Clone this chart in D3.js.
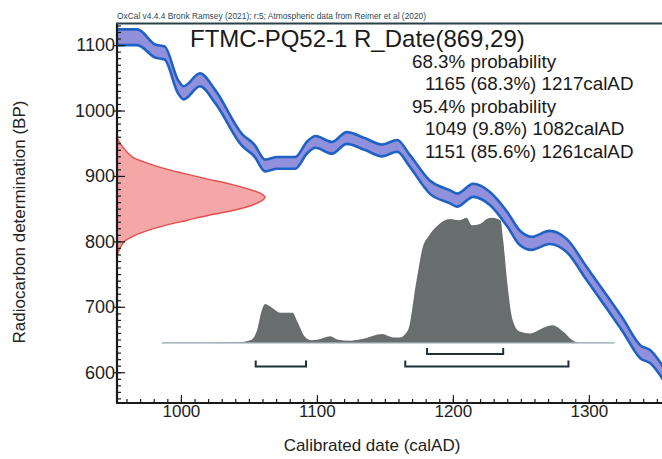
<!DOCTYPE html>
<html><head><meta charset="utf-8">
<script src="https://cdn.jsdelivr.net/npm/d3@7"></script>
<style>body{margin:0;background:#fff}svg{display:block}text{font-family:"Liberation Sans",Arial,sans-serif}</style>
</head><body><svg id="c" width="662" height="459"></svg>
<script>
// Calibration curve (IntCal20 segment)
const curveYear = [953, 968, 981, 988, 998, 1002, 1014, 1025, 1045, 1054, 1062, 1071, 1084, 1093, 1099, 1111, 1122, 1135, 1148, 1159, 1168, 1183, 1198, 1203, 1215, 1227, 1240, 1249, 1258, 1271, 1284, 1298, 1313, 1325, 1338, 1345, 1356];
const curveBP   = [1112, 1112, 1091, 1088, 1036, 1027, 1047, 1022, 955, 939, 916, 920, 920, 944, 952, 943, 958, 949, 939, 946, 924, 883, 868, 863, 878, 866, 834, 806, 797, 806, 793, 752, 708, 672, 631, 624, 594];
const curveSigma = [12, 12, 10, 10, 10, 10, 10, 10, 9, 9, 9, 9, 9, 9, 9, 9, 9, 9, 9, 9, 9, 10, 10, 10, 10, 10, 11, 11, 10, 10, 10, 10, 10, 10, 10, 10, 10];

// Radiocarbon date R_Date(869,29) distribution (relative)
const dateBP = [960, 952, 944, 936, 928, 920, 912, 904, 896, 888, 880, 872, 868, 864, 856, 848, 840, 832, 824, 816, 808, 800, 792, 784, 776];
const dateDensity = [0, 0.015, 0.04, 0.07, 0.11, 0.2, 0.31, 0.45, 0.6, 0.76, 0.89, 0.98, 1.0, 0.99, 0.92, 0.8, 0.62, 0.47, 0.32, 0.2, 0.11, 0.05, 0.025, 0.01, 0];

// Calibrated (posterior) distribution (relative)
const postYear = [986, 1043, 1051, 1056, 1059, 1062, 1067, 1073, 1082, 1086, 1091, 1096, 1101, 1110, 1115, 1124, 1134, 1148, 1156, 1161, 1167, 1173, 1178, 1182, 1188, 1198, 1205, 1210, 1214, 1220, 1225, 1229, 1235, 1237, 1240, 1244, 1249, 1257, 1264, 1273, 1281, 1288, 1293, 1319];
const postProb = [0, 0.005, 0.02, 0.10, 0.24, 0.31, 0.28, 0.24, 0.24, 0.16, 0.05, 0.02, 0.027, 0.053, 0.027, 0.016, 0.032, 0.07, 0.043, 0.043, 0.10, 0.48, 0.77, 0.85, 0.93, 0.99, 0.98, 1.0, 0.94, 0.95, 0.99, 1.0, 0.98, 0.82, 0.48, 0.18, 0.09, 0.075, 0.107, 0.14, 0.09, 0.02, 0, 0];

// Range brackets (row 0 = 68.3%, row 1 = 95.4%)
const bracketFrom = [1181, 1055, 1165];
const bracketTo   = [1237, 1092, 1285];
const bracketRow  = [0, 1, 1];

// Tick labels
const xTicks = [1000, 1100, 1200, 1300];
const yTicks = [600, 700, 800, 900, 1000, 1100];

// Texts
const headerText = "OxCal v4.4.4 Bronk Ramsey (2021); r:5; Atmospheric data from Reimer et al (2020)";
const titleText = "FTMC-PQ52-1 R_Date(869,29)";
const rangeLines = ["68.3% probability", "1165 (68.3%) 1217calAD", "95.4% probability", "1049 (9.8%) 1082calAD", "1151 (85.6%) 1261calAD"];
const rangeIndent = [0, 1, 0, 1, 1];

const svg = d3.select("#c");
const L = 117, R = 665, T = 23.5, B = 403;
const x = d3.scaleLinear().domain([953, 1356]).range([L, R]);
const y = d3.scaleLinear().domain([553, 1133]).range([B, T]);

svg.append("defs").append("clipPath").attr("id", "clip")
  .append("rect").attr("x", L).attr("y", T).attr("width", R - L).attr("height", B - T);
const g = svg.append("g").attr("clip-path", "url(#clip)");

// Red date distribution
const dW = d3.scaleLinear().domain([0, 1]).range([0, 148]);
const dateData = dateBP.map((b, i) => ({ b, d: dateDensity[i] }));
g.append("path").datum(dateData)
  .attr("d", d3.area().curve(d3.curveCatmullRom).y(d => y(d.b)).x0(L).x1(d => L + dW(d.d)))
  .attr("fill", "#f5a6a6");
g.append("path").datum(dateData)
  .attr("d", d3.line().curve(d3.curveCatmullRom).y(d => y(d.b)).x(d => L + dW(d.d)))
  .attr("fill", "none").attr("stroke", "#e2504c").attr("stroke-width", 1.4);

// Calibration band
const cData = curveYear.map((yr, i) => ({ yr, b: curveBP[i], s: curveSigma[i] }));
const cc = d3.curveMonotoneX;
g.append("path").datum(cData)
  .attr("d", d3.area().curve(cc).x(d => x(d.yr)).y0(d => y(d.b - d.s)).y1(d => y(d.b + d.s)))
  .attr("fill", "#9090dc");
[1, -1].forEach(sg => {
  g.append("path").datum(cData)
    .attr("d", d3.line().curve(cc).x(d => x(d.yr)).y(d => y(d.b + sg * d.s)))
    .attr("fill", "none").attr("stroke", "#1f62c4").attr("stroke-width", 2.6)
    .attr("stroke-linejoin", "round");
});

// Posterior distribution
const baseY = y(645);
const pH = d3.scaleLinear().domain([0, 1]).range([0, 125]);
const pData = postYear.map((yr, i) => ({ yr, p: postProb[i] }));
g.append("path").datum(pData)
  .attr("d", d3.area().curve(d3.curveMonotoneX).x(d => x(d.yr)).y0(baseY).y1(d => baseY - pH(d.p)))
  .attr("fill", "#686d6d");
g.append("line").attr("x1", x(d3.min(postYear))).attr("x2", x(d3.max(postYear)))
  .attr("y1", baseY).attr("y2", baseY).attr("stroke", "#8fa2a6").attr("stroke-width", 1.2);

// Brackets
const rowY = [354, 366.5];
bracketFrom.forEach((f, i) => {
  const yb = rowY[bracketRow[i]];
  g.append("path")
    .attr("d", `M${x(f)},${yb - 6}V${yb}H${x(bracketTo[i])}V${yb - 6}`)
    .attr("fill", "none").attr("stroke", "#1c3236").attr("stroke-width", 2);
});

// Axes
const axColor = "#1a1a1a";
const xAxis = svg.append("g").attr("transform", `translate(0,${B})`)
  .call(d3.axisBottom(x).tickValues(d3.range(960, 1360, 10)).tickSize(-4).tickFormat(""));
const xMaj = svg.append("g").attr("transform", `translate(0,${B})`)
  .call(d3.axisBottom(x).tickValues(xTicks).tickSize(-8).tickPadding(8).tickFormat(d3.format("d")));
const yAxis = svg.append("g").attr("transform", `translate(${L},0)`)
  .call(d3.axisLeft(y).tickValues(d3.range(560, 1135, 10)).tickSize(-4).tickFormat(""));
const yMaj = svg.append("g").attr("transform", `translate(${L},0)`)
  .call(d3.axisLeft(y).tickValues(yTicks).tickSize(-8).tickPadding(2).tickFormat(d3.format("d")));
[xAxis, xMaj, yAxis, yMaj].forEach(a => {
  a.select(".domain").remove();
  a.selectAll("line").attr("stroke", axColor).attr("stroke-width", 1.2);
});
yMaj.selectAll(".tick line").attr("x1", -4);
xMaj.selectAll("text").attr("font-size", 17).attr("fill", "#222").attr("dy", "0.35em");
yMaj.selectAll("text").attr("font-size", 18).attr("fill", "#222");

// frame lines
svg.append("line").attr("x1", L).attr("x2", L).attr("y1", T).attr("y2", B).attr("stroke", axColor).attr("stroke-width", 2.2);
svg.append("line").attr("x1", L - 1).attr("x2", 662).attr("y1", B).attr("y2", B).attr("stroke", axColor).attr("stroke-width", 2.2);
svg.append("line").attr("x1", L - 1).attr("x2", 662).attr("y1", T).attr("y2", T).attr("stroke", "#2a4048").attr("stroke-width", 2);

// Texts
svg.append("text").attr("x", L).attr("y", 19).attr("font-size", 8.4).attr("fill", "#2c4a55").text(headerText);
svg.append("text").attr("x", 190).attr("y", 46.5).attr("font-size", 24).attr("fill", "#1a1a1a").text(titleText);
const lineY = [67.5, 90, 112.5, 135, 157.5];
rangeLines.forEach((t, i) => {
  svg.append("text").attr("x", rangeIndent[i] ? 425 : 412).attr("y", lineY[i])
    .attr("font-size", 18.8).attr("fill", "#1a1a1a").text(t);
});
svg.append("text").attr("transform", "translate(25,222) rotate(-90)").attr("text-anchor", "middle")
  .attr("font-size", 17).attr("fill", "#222").text("Radiocarbon determination (BP)");
svg.append("text").attr("x", 372).attr("y", 451).attr("text-anchor", "middle")
  .attr("font-size", 17).attr("fill", "#222").text("Calibrated date (calAD)");
</script></body></html>
